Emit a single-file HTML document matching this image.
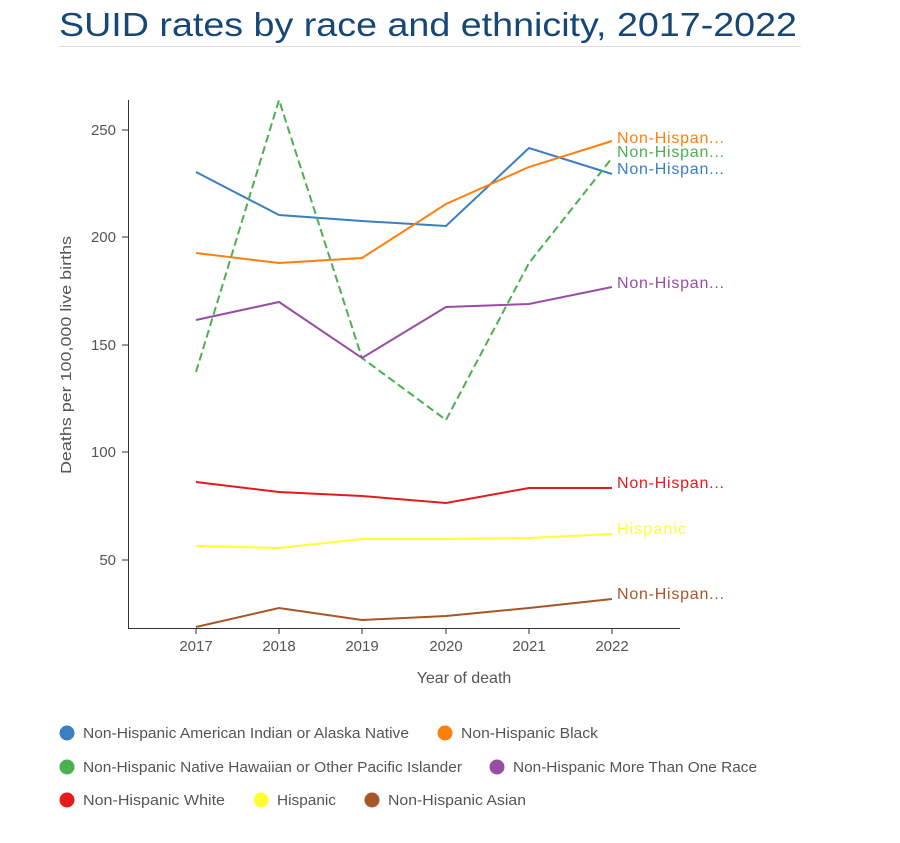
<!DOCTYPE html>
<html><head><meta charset="utf-8"><style>
body{margin:0;background:#fff;}
svg text{font-family:"Liberation Sans",sans-serif;}
</style></head><body>
<svg width="900" height="838" viewBox="0 0 900 838" xmlns="http://www.w3.org/2000/svg">
<text x="59" y="36" font-size="33" fill="#164776" textLength="738" lengthAdjust="spacingAndGlyphs">SUID rates by race and ethnicity, 2017-2022</text>
<line x1="59" y1="46.5" x2="801" y2="46.5" stroke="#ddd" stroke-width="1"/>
<line x1="128.5" y1="100" x2="128.5" y2="628" stroke="#333" stroke-width="1"/>
<line x1="128" y1="628.5" x2="680" y2="628.5" stroke="#333" stroke-width="1"/>
<g font-size="15" fill="#555" text-anchor="end">
<text x="116" y="135">250</text><line x1="122" y1="130" x2="128" y2="130" stroke="#333"/>
<text x="116" y="242">200</text><line x1="122" y1="237" x2="128" y2="237" stroke="#333"/>
<text x="116" y="350">150</text><line x1="122" y1="345" x2="128" y2="345" stroke="#333"/>
<text x="116" y="457">100</text><line x1="122" y1="452" x2="128" y2="452" stroke="#333"/>
<text x="116" y="565">50</text><line x1="122" y1="560" x2="128" y2="560" stroke="#333"/>
</g>
<g font-size="15" fill="#555" text-anchor="middle">
<text x="196" y="651">2017</text><text x="279" y="651">2018</text><text x="362" y="651">2019</text>
<text x="446" y="651">2020</text><text x="529" y="651">2021</text><text x="612" y="651">2022</text>
</g>
<g stroke="#333"><line x1="196" y1="628" x2="196" y2="634"/><line x1="279" y1="628" x2="279" y2="634"/><line x1="362" y1="628" x2="362" y2="634"/><line x1="446" y1="628" x2="446" y2="634"/><line x1="529" y1="628" x2="529" y2="634"/><line x1="612" y1="628" x2="612" y2="634"/></g>
<text x="464" y="683" font-size="16" fill="#555" text-anchor="middle">Year of death</text>
<text transform="translate(71,355) rotate(-90)" font-size="15" fill="#555" text-anchor="middle" textLength="238" lengthAdjust="spacingAndGlyphs">Deaths per 100,000 live births</text>
<g fill="none" stroke-width="2">
<polyline stroke="#3a7fc1" points="196,172 279,215 362,221 446,226 529,148 612,174"/>
<polyline stroke="#ff7f0e" points="196,253 279,263 362,258 446,204 529,167 612,141"/>
<polyline stroke="#4caf50" stroke-dasharray="8,4" points="196,372 279,100 362,358 446,420 529,263 612,158"/>
<polyline stroke="#984ea3" points="196,320 279,302 362,358 446,307 529,304 612,287"/>
<polyline stroke="#e41a1c" points="196,482 279,492 362,496 446,503 529,488 612,488"/>
<polyline stroke="#ffff33" points="196,546 279,548 362,539 446,539 529,538 612,534"/>
<polyline stroke="#a65628" points="196,627 279,608 362,620 446,616 529,608 612,599"/>
</g>
<g font-size="16" lengthAdjust="spacingAndGlyphs">
<text x="617" y="143" fill="#ff7f0e" textLength="107">Non-Hispan...</text>
<text x="617" y="157" fill="#4caf50" textLength="107">Non-Hispan...</text>
<text x="617" y="174" fill="#3a7fc1" textLength="107">Non-Hispan...</text>
<text x="617" y="288" fill="#984ea3" textLength="107">Non-Hispan...</text>
<text x="617" y="488" fill="#e41a1c" textLength="107">Non-Hispan...</text>
<text x="617" y="534" fill="#ffff33" textLength="69">Hispanic</text>
<text x="617" y="599" fill="#a65628" textLength="107">Non-Hispan...</text>
</g>
<g font-size="15" fill="#555">
<circle cx="67" cy="733" r="7.5" fill="#3a7fc1"/><text x="83" y="738" textLength="326" lengthAdjust="spacingAndGlyphs">Non-Hispanic American Indian or Alaska Native</text>
<circle cx="445" cy="733" r="7.5" fill="#ff7f0e"/><text x="461" y="738" textLength="137" lengthAdjust="spacingAndGlyphs">Non-Hispanic Black</text>
<circle cx="67" cy="767" r="7.5" fill="#4caf50"/><text x="83" y="772" textLength="379" lengthAdjust="spacingAndGlyphs">Non-Hispanic Native Hawaiian or Other Pacific Islander</text>
<circle cx="497" cy="767" r="7.5" fill="#984ea3"/><text x="513" y="772" textLength="244" lengthAdjust="spacingAndGlyphs">Non-Hispanic More Than One Race</text>
<circle cx="67" cy="800" r="7.5" fill="#e41a1c"/><text x="83" y="805" textLength="142" lengthAdjust="spacingAndGlyphs">Non-Hispanic White</text>
<circle cx="261" cy="800" r="7.5" fill="#ffff33"/><text x="277" y="805" textLength="59" lengthAdjust="spacingAndGlyphs">Hispanic</text>
<circle cx="372" cy="800" r="7.5" fill="#a65628"/><text x="388" y="805" textLength="138" lengthAdjust="spacingAndGlyphs">Non-Hispanic Asian</text>
</g>
</svg>
</body></html>
